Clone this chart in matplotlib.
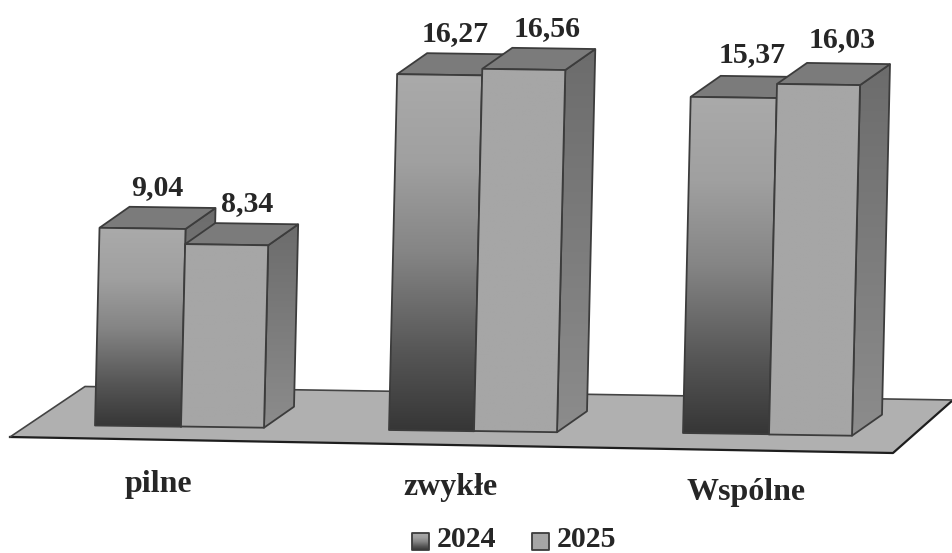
import matplotlib
matplotlib.use("Agg")
import matplotlib.pyplot as plt
import numpy as np
from matplotlib.colors import LinearSegmentedColormap
from matplotlib.patches import Polygon

categories = ["pilne", "zwykłe", "Wspólne"]
series_names = ["2024", "2025"]
values_2024 = [9.04, 16.27, 15.37]
values_2025 = [8.34, 16.56, 16.03]
value_labels_2024 = ["9,04", "16,27", "15,37"]
value_labels_2025 = ["8,34", "16,56", "16,03"]

W, H = 953, 553
px_per_unit = 21.87
lean = 0.5  # px the bars drift right per unit of height
depth_x, depth_y = 30, 21

left_2024 = [95, 389, 683]
base_2024 = [425.5, 430, 433]
width_2024 = [86, 85, 86]
left_2025 = [181, 474, 769]
base_2025 = [426.5, 431, 434.5]
width_2025 = [83, 83, 83]
label_dx_2024 = [58, 58, 62]
label_dx_2025 = [62, 65, 65]
label_up_2024 = [33, 33, 35]
label_up_2025 = [33, 33, 37]

edge = "#3c3c3c"
front_2024 = LinearSegmentedColormap.from_list(
    "f24", [(0, "#363636"), (0.22, "#565656"), (0.5, "#858585"), (0.75, "#a0a0a0"), (1, "#aaaaaa")])
front_2025 = LinearSegmentedColormap.from_list("f25", ["#a6a6a6", "#a6a6a6"])
side_cmap = LinearSegmentedColormap.from_list("side", ["#8c8c8c", "#6c6c6c"])
grad = np.linspace(0, 1, 256).reshape(-1, 1)

fig = plt.figure(figsize=(W / 100, H / 100), dpi=100)
ax = fig.add_axes([0, 0, 1, 1])


def to_y(py):
    # picture row -> value units, the y axis is in bar values
    return (H - py) / px_per_unit


def gradient_poly(pts, cmap, zorder):
    pts = np.array(pts)
    im = ax.imshow(grad, cmap=cmap, origin="lower", aspect="auto", zorder=zorder,
                   extent=[pts[:, 0].min(), pts[:, 0].max(), pts[:, 1].min(), pts[:, 1].max()])
    poly = Polygon(pts, closed=True, fc="none", ec=edge, lw=1.3, zorder=zorder + 0.1, joinstyle="round")
    ax.add_patch(poly)
    im.set_clip_path(poly)


def draw_bar(x0, base, w, val, cmap, z):
    b0 = to_y(base)
    b1 = b0 - 1.2 / px_per_unit
    dy = depth_y / px_per_unit
    x1 = x0 + w
    s = lean * val
    fl = (x0 + s, b0 + val)
    fr = (x1 + s, b1 + val)
    # side, top, then front
    gradient_poly([(x1, b1), (x1 + depth_x, b1 + dy), (fr[0] + depth_x, fr[1] + dy), fr], side_cmap, z)
    ax.add_patch(Polygon([fl, fr, (fr[0] + depth_x, fr[1] + dy), (fl[0] + depth_x, fl[1] + dy)],
                         closed=True, fc="#7b7b7b", ec=edge, lw=1.3, zorder=z + 0.2))
    gradient_poly([(x0, b0), (x1, b1), fr, fl], cmap, z + 0.3)
    return fl


# floor
ax.add_patch(Polygon([(10, to_y(437)), (85, to_y(386.5)), (W, to_y(400)), (W, to_y(400.5)), (893, to_y(453))],
                     closed=True, fc="#b0b0b0", ec="none", zorder=1))
ax.plot([10, 893, W], [to_y(437), to_y(453), to_y(400)], color="#1e1e1e", lw=1.6, zorder=1.5)
ax.plot([10, 85, W], [to_y(437), to_y(386.5), to_y(400)], color="#444444", lw=1.2, zorder=1.5)

text_kw = dict(family="Liberation Serif", weight="bold", color="#262626", zorder=20)

for i in range(len(categories)):
    z = 2 + i * 2
    tl = draw_bar(left_2024[i], base_2024[i], width_2024[i], values_2024[i], front_2024, z)
    ax.text(tl[0] + label_dx_2024[i], tl[1] + label_up_2024[i] / px_per_unit, value_labels_2024[i],
            ha="center", va="baseline", fontsize=21.5, **text_kw)
    tl = draw_bar(left_2025[i], base_2025[i], width_2025[i], values_2025[i], front_2025, z + 1)
    ax.text(tl[0] + label_dx_2025[i], tl[1] + label_up_2025[i] / px_per_unit, value_labels_2025[i],
            ha="center", va="baseline", fontsize=21.5, **text_kw)

# category labels
cat_x = [158.5, 451, 746.5]
cat_base = [492, 495.5, 500]
for name, cx, cy in zip(categories, cat_x, cat_base):
    ax.text(cx, to_y(cy), name, ha="center", va="baseline", fontsize=23, **text_kw)

# legend
swatch_x = [412, 532]
legend_text_x = [437, 557]
for name, sx, tx, cmap in zip(series_names, swatch_x, legend_text_x, [front_2024, front_2025]):
    gradient_poly([(sx, to_y(550)), (sx + 17, to_y(550)), (sx + 17, to_y(533)), (sx, to_y(533))], cmap, 15)
    ax.text(tx, to_y(547), name, ha="left", va="baseline", fontsize=21.5, **text_kw)

ax.set_xlim(0, W)
ax.set_ylim(0, H / px_per_unit)
ax.axis("off")
fig.savefig("out.png", dpi=100, facecolor="white")
